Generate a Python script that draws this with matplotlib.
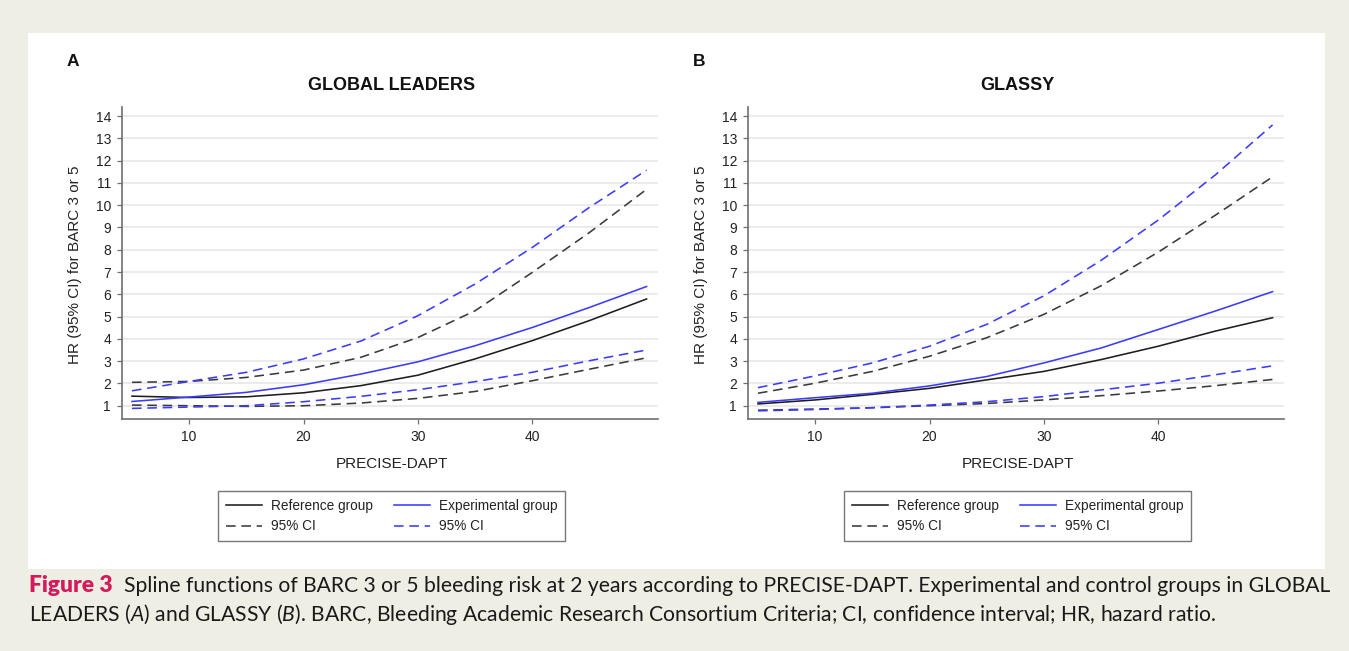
import matplotlib
matplotlib.use("Agg")
import matplotlib.pyplot as plt
from matplotlib.patches import Rectangle
from matplotlib.lines import Line2D

plt.rcParams['font.family'] = ['Liberation Sans', 'DejaVu Sans']
plt.rcParams['mathtext.fontset'] = 'custom'
plt.rcParams['mathtext.rm'] = 'Lato'
plt.rcParams['mathtext.it'] = 'Lato:italic'

# ---------------- data ----------------
precise_dapt = [5, 10, 15, 20, 25, 30, 35, 40, 45, 50]

# GLOBAL LEADERS (panel A)
gl_ref      = [1.43, 1.37, 1.40, 1.58, 1.90, 2.37, 3.10, 3.92, 4.82, 5.79]
gl_ref_lo   = [1.03, 1.00, 0.97, 1.00, 1.12, 1.33, 1.64, 2.12, 2.64, 3.15]
gl_ref_hi   = [2.05, 2.09, 2.27, 2.60, 3.17, 4.06, 5.26, 6.98, 8.77, 10.71]
gl_exp      = [1.19, 1.39, 1.60, 1.94, 2.42, 2.97, 3.69, 4.51, 5.41, 6.35]
gl_exp_lo   = [0.88, 0.94, 1.00, 1.18, 1.42, 1.72, 2.08, 2.50, 3.02, 3.50]
gl_exp_hi   = [1.67, 2.09, 2.50, 3.10, 3.90, 5.04, 6.46, 8.10, 9.90, 11.57]

# GLASSY (panel B)
gs_ref      = [1.08, 1.26, 1.51, 1.78, 2.16, 2.54, 3.07, 3.67, 4.35, 4.95]
gs_ref_lo   = [0.80, 0.85, 0.91, 1.00, 1.10, 1.26, 1.45, 1.66, 1.90, 2.18]
gs_ref_hi   = [1.56, 2.01, 2.54, 3.22, 4.05, 5.10, 6.38, 7.89, 9.55, 11.27]
gs_exp      = [1.15, 1.36, 1.56, 1.89, 2.31, 2.92, 3.59, 4.42, 5.25, 6.12]
gs_exp_lo   = [0.77, 0.83, 0.91, 1.03, 1.18, 1.41, 1.71, 2.01, 2.39, 2.79]
gs_exp_hi   = [1.81, 2.34, 2.92, 3.67, 4.65, 5.93, 7.52, 9.33, 11.36, 13.60]

x_ticks = [10, 20, 30, 40]
y_ticks = list(range(1, 15))
titles = ["GLOBAL LEADERS", "GLASSY"]
letters = ["A", "B"]
legend_labels = ["Reference group", "95% CI", "Experimental group", "95% CI"]
y_label = "HR (95% CI) for BARC 3 or 5"
x_label = "PRECISE-DAPT"

# ---------------- styling ----------------
W, H = 1349, 651
BG = '#EFEEE4'
C_BLACK = '#1e1e1e'
C_BLACK_D = '#3a3a3a'
C_BLUE = '#3b3bff'
DASH = (0, (6.0, 3.6))

fig = plt.figure(figsize=(W / 100, H / 100), dpi=100, facecolor=BG)
fig.patches.append(Rectangle((28 / W, 1 - 569 / H), (1325 - 28) / W, (569 - 33) / H,
                             transform=fig.transFigure, facecolor='white',
                             edgecolor='none', zorder=-10))

panels = [
    (121.7, (gl_ref, gl_ref_lo, gl_ref_hi, gl_exp, gl_exp_lo, gl_exp_hi)),
    (747.7, (gs_ref, gs_ref_lo, gs_ref_hi, gs_exp, gs_exp_lo, gs_exp_hi)),
]

ax_top, ax_bot = 107.1, 419.1
ax_w = 536.3

for i, (left, (ref, ref_lo, ref_hi, exp, exp_lo, exp_hi)) in enumerate(panels):
    ax = fig.add_axes([left / W, 1 - ax_bot / H, ax_w / W, (ax_bot - ax_top) / H])
    ax.set_facecolor('white')
    ax.plot(precise_dapt, ref_hi, color=C_BLACK_D, lw=1.15, ls=DASH)
    ax.plot(precise_dapt, ref_lo, color=C_BLACK_D, lw=1.15, ls=DASH)
    ax.plot(precise_dapt, exp_hi, color=C_BLUE, lw=1.15, ls=DASH)
    ax.plot(precise_dapt, exp_lo, color=C_BLUE, lw=1.15, ls=DASH)
    ax.plot(precise_dapt, ref, color=C_BLACK, lw=1.15)
    ax.plot(precise_dapt, exp, color=C_BLUE, lw=1.15)

    ax.set_xlim(4.1, 51.0)
    ax.set_ylim(0.4, 14.4)
    ax.set_xticks(x_ticks)
    ax.set_yticks(y_ticks)
    ax.grid(axis='y', color='#e6e6e6', lw=1.1)
    ax.set_axisbelow(True)
    for s in ['top', 'right']:
        ax.spines[s].set_visible(False)
    for s in ['left', 'bottom']:
        ax.spines[s].set_color('#707070')
        ax.spines[s].set_linewidth(1.2)
    ax.tick_params(axis='both', direction='out', length=3.7, width=0.9,
                   color='#707070', labelsize=10, labelcolor='#222222')
    ax.tick_params(axis='y', pad=4.0)
    ax.tick_params(axis='x', pad=4.5)

    cx = left + ax_w / 2 + 2
    fig.text(cx / W, 1 - 86 / H, titles[i], fontsize=13, weight='bold',
             ha='center', va='center', color='#111111')
    fig.text((left - 48.7) / W, 1 - 61 / H, letters[i], fontsize=12.5, weight='bold',
             ha='center', va='center', color='#111111')
    fig.text(cx / W, 1 - 464 / H, x_label, fontsize=11, ha='center', va='center',
             color='#222222')
    fig.text((left - 46.7) / W, 1 - 265 / H, y_label, fontsize=11, rotation=90,
             ha='center', va='center', color='#222222')

    handles = [Line2D([], [], color=C_BLACK, lw=1.15),
               Line2D([], [], color=C_BLACK_D, lw=1.15, ls=DASH),
               Line2D([], [], color=C_BLUE, lw=1.15),
               Line2D([], [], color=C_BLUE, lw=1.15, ls=DASH)]
    leg = ax.legend(handles, legend_labels, ncol=2, loc='upper center',
                    bbox_to_anchor=(cx / W, 1 - 491 / H), bbox_transform=fig.transFigure,
                    fontsize=9.8, frameon=True, fancybox=False, handlelength=2.65,
                    handletextpad=0.6, columnspacing=1.6, labelspacing=0.45,
                    borderpad=0.6, borderaxespad=0)
    leg.get_frame().set_edgecolor('#555555')
    leg.get_frame().set_linewidth(1.0)
    for t in leg.get_texts():
        t.set_color('#222222')

# ---------------- caption ----------------
cap_bold = "Figure 3"
cap_line1 = ("Spline functions of BARC 3 or 5 bleeding risk at 2 years according to "
             "PRECISE-DAPT. Experimental and control groups in GLOBAL")
cap_line2 = (r"LEADERS ($\mathit{A}$) and GLASSY ($\mathit{B}$). BARC, Bleeding Academic "
             r"Research Consortium Criteria; CI, confidence interval; HR, hazard ratio.")

CAP_FONT = ['Lato', 'DejaVu Sans']
x0 = 29
tb = fig.text(x0 / W, 1 - 592 / H, cap_bold, fontsize=15, weight='heavy',
              color='#D31B5B', family=CAP_FONT, va='baseline', ha='left')
t1 = fig.text(140 / W, 1 - 592 / H, cap_line1, fontsize=15, color='#1a1a1a',
              family=CAP_FONT, va='baseline', ha='left')
t2 = fig.text(x0 / W, 1 - 621 / H, cap_line2, fontsize=15, color='#1a1a1a',
              family=CAP_FONT, va='baseline', ha='left')
renderer = fig.canvas.get_renderer()
for _ in range(4):
    s = t1.get_fontsize()
    tb.set_fontsize(s * 1.08)
    wb = tb.get_window_extent(renderer).width
    rest_x = x0 + wb + 11
    t1.set_x(rest_x / W)
    w1 = t1.get_window_extent(renderer).width
    s = s * (1325 - rest_x) / w1
    t1.set_fontsize(s)
    t2.set_fontsize(s)

fig.savefig("out.png", dpi=100, facecolor=BG)
